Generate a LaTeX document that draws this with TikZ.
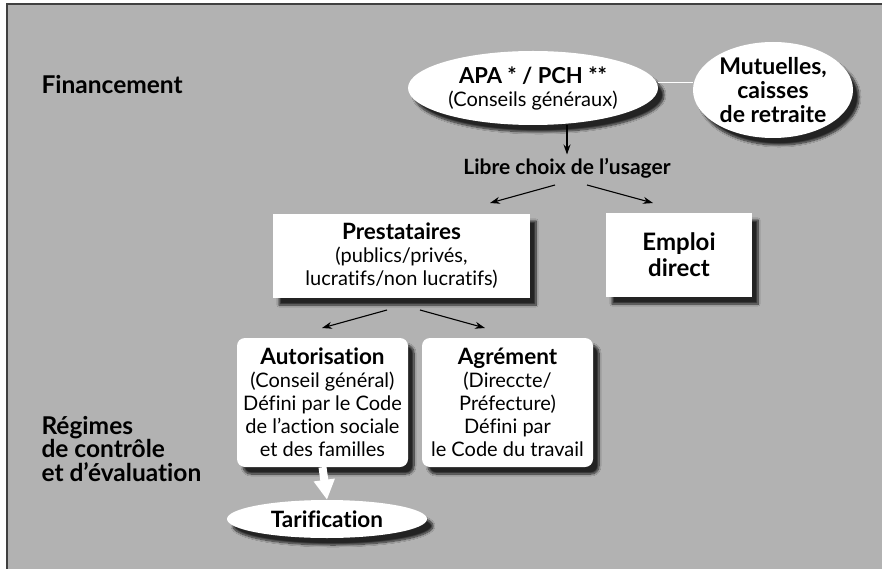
\documentclass[tikz,border=0pt]{standalone}
\usepackage{fontspec}
\setmainfont{Lato}[Ligatures=NoCommon]
\usetikzlibrary{shapes.geometric,arrows.meta,shadows.blur}
\definecolor{fond}{gray}{0.70}
\definecolor{cadre}{gray}{0.25}
\newcommand{\gras}[1]{{\fontsize{22.5}{25}\selectfont\bfseries #1}}
\tikzset{
  ombre/.style={blur shadow={shadow xshift=6pt, shadow yshift=-7pt, shadow opacity=80, shadow blur steps=12}},
  bulle/.style={ellipse, fill=white, inner sep=0pt, align=center, ombre, font=\fontsize{20}{23}\selectfont},
  boite/.style={rectangle, fill=white, inner sep=0pt, align=center, ombre, font=\fontsize{20}{23}\selectfont},
  cadrage/.style={boite, rounded corners=8pt},
  rubrique/.style={anchor=west, align=left, font=\fontsize{24.5}{23.5}\selectfont\bfseries},
  arr/.style={-{Stealth[length=10pt,width=7pt]}, line width=1.1pt}
}
\begin{document}
\begin{tikzpicture}[x=1pt,y=-1pt]
\useasboundingbox (0,0) rectangle (882,569);
\fill[white] (0,0) rectangle (882,569);
\fill[fond] (7,4) rectangle (882,569);
\draw[cadre, line width=1.5pt] (7,569) -- (7,4) -- (882,4);

\node[rubrique] (fin) at (38,85) {Financement};
\node[rubrique] (reg) at (38,449) {Régimes\\de contrôle\\et d’évaluation};

\node[bulle, minimum width=250, minimum height=74, inner sep=-4pt] (apa) at (533,88)
  {{\fontsize{22}{25}\selectfont\bfseries APA * / PCH **}\\(Conseils généraux)};
\node[bulle, minimum width=160, minimum height=96, inner xsep=-8pt, inner ysep=-4pt,
  font=\fontsize{23}{24}\selectfont\bfseries] (mut) at (773,90)
  {Mutuelles,\\caisses\\de retraite};
\node[font=\fontsize{21}{22}\selectfont\bfseries] (libre) at (567,168) {Libre choix de l’usager};
\node[boite, minimum width=257, minimum height=84] (prest) at (401.5,256)
  {\gras{Prestataires}\\(publics/privés,\\lucratifs/non lucratifs)};
\node[boite, minimum width=146, minimum height=84, font=\fontsize{24}{26}\selectfont\bfseries] (emploi) at (679,255)
  {Emploi\\direct};
\node[cadrage, minimum width=171, minimum height=129] (autor) at (322.5,402.5)
  {\gras{Autorisation}\\(Conseil général)\\Défini par le Code\\de l’action sociale\\et des familles};
\node[cadrage, minimum width=171, minimum height=129] (agrem) at (507.5,402.5)
  {\gras{Agrément}\\(Direccte/\\Préfecture)\\Défini par\\le Code du travail};
\node[bulle, minimum width=200, minimum height=38, inner sep=-4pt] (tarif) at (327,519) {\gras{Tarification}};

\coordinate (l1) at (555,185);
\coordinate (l2) at (490,203);
\coordinate (r1) at (587,185);
\coordinate (r2) at (653,203);
\coordinate (p1) at (387,310);
\coordinate (p2) at (322,328);
\coordinate (q1) at (420,310);
\coordinate (q2) at (485,328);

\draw[white, line width=1pt] (apa.east |- 0,83) -- (mut.west |- 0,83);
\draw[arr] (libre.north |- apa.south) -- (libre.north);
\foreach \from/\to in {l1/l2,r1/r2,p1/p2,q1/q2}
\draw[arr] (\from) -- (\to);
\draw[white, line width=8pt, -{Triangle[length=20pt,width=20pt]}] (autor.south) -- (tarif.north);
\end{tikzpicture}
\end{document}
